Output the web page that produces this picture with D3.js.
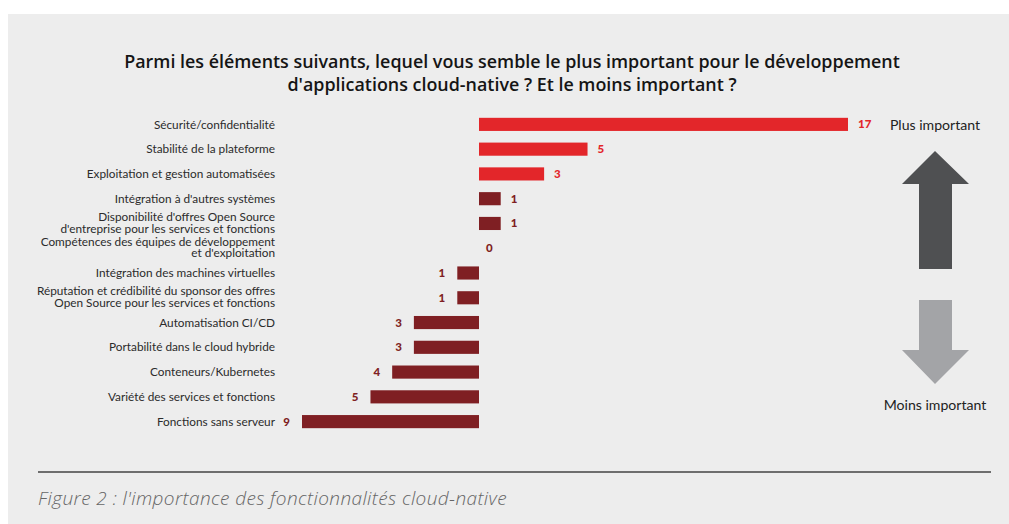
<!DOCTYPE html>
<html>
<head>
<meta charset="utf-8">
<script src="https://cdn.jsdelivr.net/npm/d3@7"></script>
<style>
  html, body { margin: 0; padding: 0; background: #fff; }
  svg { display: block; }
</style>
</head>
<body>
<svg id="chart" width="1009" height="524"></svg>
<script>
// categories (top to bottom), each can hold two lines
const categories = [
  ["Sécurité/confidentialité"],
  ["Stabilité de la plateforme"],
  ["Exploitation et gestion automatisées"],
  ["Intégration à d'autres systèmes"],
  ["Disponibilité d'offres Open Source", "d'entreprise pour les services et fonctions"],
  ["Compétences des équipes de développement", "et d'exploitation"],
  ["Intégration des machines virtuelles"],
  ["Réputation et crédibilité du sponsor des offres", "Open Source pour les services et fonctions"],
  ["Automatisation CI/CD"],
  ["Portabilité dans le cloud hybride"],
  ["Conteneurs/Kubernetes"],
  ["Variété des services et fonctions"],
  ["Fonctions sans serveur"]
];
// net score: positive = plus important, negative = moins important
const values = [17, 5, 3, 1, 1, 0, -1, -1, -3, -3, -4, -5, -9];
const topColored = [true, true, true, false, false, false, false, false, false, false, false, false, false];

const titleLines = [
  "Parmi les éléments suivants, lequel vous semble le plus important pour le développement",
  "d'applications cloud-native ? Et le moins important ?"
];
const caption = "Figure 2 : l'importance des fonctionnalités cloud-native";

const red = "#e3262a", darkRed = "#7f1f23";
const svg = d3.select("#chart");

svg.append("rect").attr("x", 8).attr("y", 14).attr("width", 1001).attr("height", 510).attr("fill", "#ededed");

svg.append("g").selectAll("text").data(titleLines).join("text")
  .attr("x", 512).attr("y", (d, i) => 68 + i * 23)
  .attr("text-anchor", "middle")
  .style("font-family", "'Open Sans', sans-serif").style("font-weight", 600).style("font-size", "17.9px")
  .attr("fill", "#151515")
  .text(d => d);

// plot area runs from x=302 to 848; bars beyond the left edge are clipped to it
const base = d3.scaleLinear().domain([0, 17]).range([479, 848]);
const xScale = d3.scaleLinear().domain([base.invert(302), 17]).range([302, 848]).clamp(true);
const yScale = d3.scaleBand().domain(d3.range(values.length)).range([112, 434]).paddingInner(0.47).paddingOuter(0.235);

const rows = svg.append("g").selectAll("g").data(values).join("g");

rows.append("rect")
  .attr("x", d => Math.min(xScale(0), xScale(d)))
  .attr("width", d => Math.abs(xScale(d) - xScale(0)))
  .attr("y", (d, i) => yScale(i))
  .attr("height", yScale.bandwidth())
  .attr("fill", (d, i) => topColored[i] ? red : darkRed);

rows.append("text")
  .attr("x", d => d > 0 ? xScale(d) + 10 : d < 0 ? xScale(d) - 12 : xScale(0) + 7)
  .attr("y", (d, i) => yScale(i) + yScale.bandwidth() / 2)
  .attr("dy", "0.35em")
  .attr("text-anchor", d => d < 0 ? "end" : "start")
  .style("font-family", "Lato, sans-serif").style("font-weight", 900).style("font-size", "11.5px")
  .attr("fill", (d, i) => topColored[i] ? red : darkRed)
  .text(d => Math.abs(d));

const lab = svg.append("g").selectAll("text").data(categories).join("text")
  .attr("x", 275)
  .attr("y", (d, i) => yScale(i) + yScale.bandwidth() / 2 - (d.length - 1) * 6.5)
  .attr("text-anchor", "end")
  .style("font-family", "Lato, sans-serif").style("font-size", "11.8px")
  .attr("fill", "#2b2b2b");
lab.selectAll("tspan").data(d => d).join("tspan")
  .attr("x", 275)
  .attr("dy", (d, i) => i === 0 ? "0.35em" : "11.5px")
  .text(d => d);

// direction arrows
const arrow = d3.line();
svg.append("path")
  .attr("d", arrow([[935, 151], [969, 184], [952, 184], [952, 269], [919, 269], [919, 184], [902, 184]]) + "Z")
  .attr("fill", "#4f5052");
svg.append("path")
  .attr("d", arrow([[919, 300], [952, 300], [952, 350], [969, 350], [935, 384], [902, 350], [919, 350]]) + "Z")
  .attr("fill", "#a3a4a7");

svg.append("g").selectAll("text").data([["Plus important", 125], ["Moins important", 405]]).join("text")
  .attr("x", 935).attr("y", d => d[1]).attr("dy", "0.35em")
  .attr("text-anchor", "middle")
  .style("font-family", "Lato, sans-serif").style("font-size", "14.1px")
  .attr("fill", "#222")
  .text(d => d[0]);

svg.append("line").attr("x1", 38).attr("x2", 991).attr("y1", 472).attr("y2", 472)
  .attr("stroke", "#6e6e6e").attr("stroke-width", 2);

svg.append("text").attr("x", 38).attr("y", 505)
  .style("font-family", "'Open Sans', sans-serif").style("font-style", "italic").style("font-weight", 300).style("font-size", "19px")
  .style("letter-spacing", "0.4px")
  .attr("fill", "#666")
  .text(caption);
</script>
</body>
</html>
